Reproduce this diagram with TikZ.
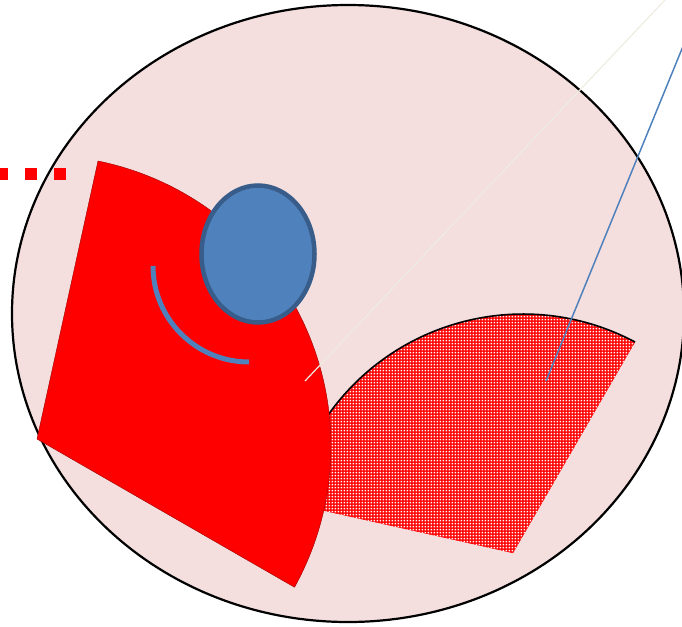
\documentclass[tikz,border=0pt]{standalone}
\usetikzlibrary{patterns}
\definecolor{pinkbg}{HTML}{F4DFDE}
\definecolor{offblue}{HTML}{4F81BD}
\definecolor{offblueD}{HTML}{385D8A}
\definecolor{tanline}{HTML}{EEECE1}
\pgfdeclarepatterninherentlycolored{rgrid}{\pgfpoint{0pt}{0pt}}{\pgfpoint{3.4pt}{3.4pt}}{\pgfpoint{3.4pt}{3.4pt}}{%
  \pgfsetfillcolor{red}\pgfpathrectangle{\pgfpoint{-0.2pt}{-0.2pt}}{\pgfpoint{3.8pt}{3.8pt}}\pgfusepath{fill}%
  \pgfsetfillcolor{white}\pgfpathrectangle{\pgfpoint{0.8pt}{0.8pt}}{\pgfpoint{1.8pt}{1.8pt}}\pgfusepath{fill}}
\begin{document}
\begin{tikzpicture}[x=1pt,y=1pt,
  bigoval/.style={fill=pinkbg,draw=black,line width=2.2pt},
  redwedge/.style={fill=red,draw=red!60!black,line width=0.4pt},
  hatchwedge/.style={fill=red,postaction={pattern=rgrid}},
  blueoval/.style={fill=offblue,draw=offblueD,line width=4.5pt},
  bluearc/.style={draw=offblue,line width=5pt},
  thinblue/.style={draw=offblue,line width=1.5pt},
  faint/.style={draw=tanline,line width=1.2pt},
  reddots/.style={draw=red,line width=12pt,dash pattern=on 12pt off 17pt}]
\useasboundingbox (0,0) rectangle (682,-626);
% background oval
\path[bigoval] (348,-313.5) ellipse [x radius=336, y radius=308.5];
% hatched wedge
\coordinate (hv) at (513,-553);
\coordinate (hs) at (635,-342);
\path[hatchwedge] (hv) -- (hs) arc[start angle=62, end angle=168, radius=238.6] -- cycle;
\draw[black,line width=1.6pt] (hs) arc[start angle=62, end angle=150, radius=238.6];
% red wedge
\coordinate (rv) at (37,-439);
\coordinate (rs) at (98,-161);
\path[redwedge] (rv) -- (rs) arc[start angle=78.5, end angle=-29, radius=291] -- cycle;
% blue oval
\path[blueoval] (258,-254) ellipse [x radius=56.5, y radius=68.5];
% blue arc
\coordinate (ba) at (153,-266);
\draw[bluearc] (ba) arc[start angle=180, end angle=270, radius=96];
% faint line
\coordinate (f1) at (305,-381);
\coordinate (f2) at (674.4,10);
\draw[faint] (f1) -- (f2);
% thin blue line
\coordinate (b1) at (546,-381);
\coordinate (b2) at (704,5);
\draw[thinblue] (b1) -- (b2);
% red dotted line
\coordinate (d1) at (66,-174);
\coordinate (d2) at (-60,-174);
\draw[reddots] (d1) -- (d2);
\end{tikzpicture}
\end{document}
